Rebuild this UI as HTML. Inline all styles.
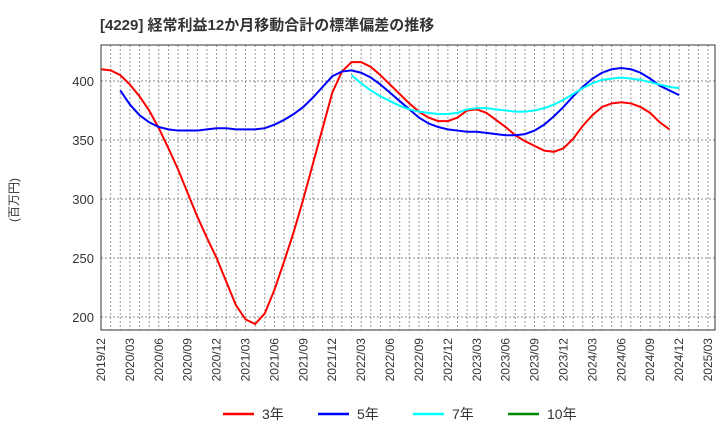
<!DOCTYPE html>
<html><head><meta charset="utf-8"><style>
body{margin:0;background:#fff;width:720px;height:440px;overflow:hidden;font-family:"Liberation Sans","Noto Sans CJK JP",sans-serif}
</style></head><body>
<svg id="c" width="720" height="440" xmlns="http://www.w3.org/2000/svg">
<text x="100" y="30" font-size="15" font-weight="bold" fill="#333" font-family="Liberation Sans, Noto Sans CJK JP, sans-serif">[4229]  経常利益12か月移動合計の標準偏差の推移</text>
<text transform="translate(18,200) rotate(-90)" text-anchor="middle" font-size="12" fill="#333" font-family="Liberation Sans, Noto Sans CJK JP, sans-serif">(百万円)</text>
<g id="grid"></g><g id="lines"></g><g id="axes"></g><g id="legend"></g>
</svg>
<script>
const yTicks=[200,250,300,350,400];
const xLabels=["2019/12","2020/03","2020/06","2020/09","2020/12","2021/03","2021/06","2021/09","2021/12","2022/03","2022/06","2022/09","2022/12","2023/03","2023/06","2023/09","2023/12","2024/03","2024/06","2024/09","2024/12","2025/03"];
const s3=[410,409,405,397,387,375,360,343,325,305,285,267,250,230,210,198,194,203,223,247,272,300,330,360,390,408,416,416,412,405,397,389,381,374,369,366,366,369,375,376,373,367,361,354,349,345,341,340,343,351,362,371,378,381,382,381,378,373,365,359];
const s5Start=2;
const s5=[392,380,371,365,361,359,358,358,358,359,360,360,359,359,359,360,363,367,372,378,386,395,404,408,409,407,403,397,390,383,376,369,364,361,359,358,357,357,356,355,354,354,355,358,363,370,378,387,395,402,407,410,411,410,407,402,396,392,388];
const s7Start=26;
const s7=[405,398,392,387,383,379,376,374,373,372,372,373,376,377,377,376,375,374,374,375,377,380,384,389,394,398,401,402,403,402,401,399,397,395,394];
const s10=[];
const L=101,R=715,T=45,B=330,months=64;
const xs=i=>L+i*(708-L)/63;
const ys=v=>81+(400-v)*59/50;
const NS="http://www.w3.org/2000/svg";
function mk(t,a,p){const e=document.createElementNS(NS,t);for(const k in a)e.setAttribute(k,a[k]);p.appendChild(e);return e;}
const grid=document.getElementById('grid'),axes=document.getElementById('axes'),lines=document.getElementById('lines'),leg=document.getElementById('legend');
for(let i=1;i<months;i++){const x=xs(i);if(x>=R)break;const g=mk('line',{x1:x,x2:x,y1:T,y2:B,stroke:'#999','stroke-dasharray':'2,2','stroke-width':1},grid);

}
yTicks.forEach(v=>{const y=ys(v);const g=mk('line',{x1:L,x2:R,y1:y,y2:y,stroke:'#888','stroke-dasharray':'2,2','stroke-width':1},grid);


const t=mk('text',{x:L-7,y:y+5,'text-anchor':'end','font-size':13,fill:'#333'},axes);t.textContent=v;

});
xLabels.forEach((s,i)=>{const x=xs(i*3);const t=mk('text',{transform:`translate(${x+4},${B+8}) rotate(-90)`,'text-anchor':'end','font-size':12,fill:'#333'},axes);t.textContent=s;

});
const fr=mk('rect',{x:L,y:T,width:R-L,height:B-T,fill:'none',stroke:'#333','stroke-width':1},axes);


function series(arr,start,color,name){if(!arr.length)return;const p=mk('polyline',{points:arr.map((v,i)=>xs(start+i)+','+ys(v)).join(' '),fill:'none',stroke:color,'stroke-width':2},lines);

}
series(s3,0,'#f00','line-3y');
series(s5,s5Start,'#00f','line-5y');
series(s7,s7Start,'#0ff','line-7y');
series(s10,0,'#080','line-10y');
const items=[['3年','#f00',223],['5年','#00f',318],['7年','#0ff',413],['10年','#080',508]];
items.forEach(([lab,c,x])=>{const g=mk('g',{},leg);


mk('line',{x1:x,x2:x+31,y1:414,y2:414,stroke:c,'stroke-width':2.5},g);
const t=mk('text',{x:x+39,y:419,'font-size':14,fill:'#333'},g);t.textContent=lab;});
</script>
</body></html>
